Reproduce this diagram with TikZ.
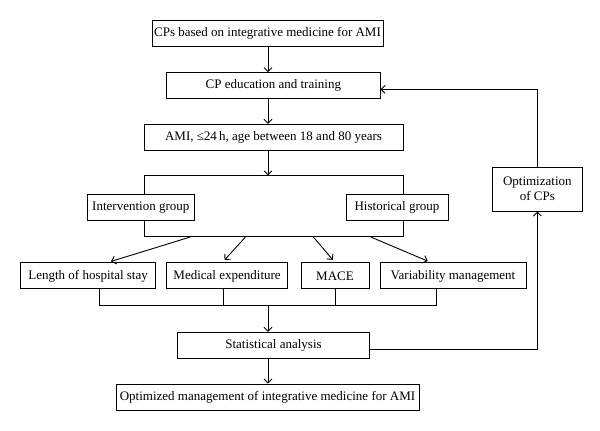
\documentclass[tikz,border=0pt]{standalone}
\usepackage{fontspec}
\setmainfont{Liberation Serif}
\usepackage{tikz}
\usetikzlibrary{arrows.meta}
\tikzstyle{box} = [rectangle, draw = black, line width = 0.9pt, inner sep = 0pt, minimum height = 26pt, font = \fontsize{13}{15}\selectfont]

\begin{document}
\begin{tikzpicture}[x = 1pt, y = 1pt, line width = 0.9pt, >={Straight Barb[length=4pt,width=8pt]}]
            \useasboundingbox (0, 0) rectangle (600, 431);
            \node (top) at (267.5, 397.3) [box, minimum width = 231pt] {CPs based on integrative medicine for AMI};
            \node (educ) at (273.3, 345.3) [box, minimum width = 213.5pt] {CP education and training};
            \node (crit) at (273.5, 293.5) [box, minimum width = 259pt, minimum height = 26.4pt] {AMI, ≤24\,h, age between 18 and 80 years};
            \node (grp) at (273.5, 224.7) [box, minimum width = 259pt, minimum height = 60.7pt] {};
            \node (intv) at (140.8, 223.8) [box, minimum width = 106.3pt, fill = white] {Intervention group};
            \node (hist) at (397, 223.8) [box, minimum width = 102pt, fill = white] {Historical group};
            \node (opt) at (537.3, 241.8) [box, minimum width = 90.7pt, minimum height = 43.7pt, align = center] {Optimization\\of CPs};
            \node (los) at (88.1, 155.1) [box, minimum width = 135.4pt] {Length of hospital stay};
            \node (med) at (227.1, 155.1) [box, minimum width = 121.2pt] {Medical expenditure};
            \node (mace) at (335, 155.1) [box, minimum width = 68pt] {MACE};
            \node (var) at (453, 155.1) [box, minimum width = 146pt] {Variability management};
            \node (stat) at (273.5, 85.7) [box, minimum width = 191.5pt] {Statistical analysis};
            \node (final) at (267.5, 34) [box, minimum width = 303pt] {Optimized management of integrative medicine for AMI};
            \coordinate (spine) at (268, 0);
            \coordinate (join) at (268, 125.3);
            \draw [->] (spine |- top.south) -- (spine |- educ.north);
            \draw [->] (spine |- educ.south) -- (spine |- crit.north);
            \draw [->] (spine |- crit.south) -- (spine |- grp.north);
            \draw [->, shorten > = 3.4pt] ([xshift = -83.5pt]grp.south) -- ([xshift = 19.6pt]los.north);
            \draw [->, shorten > = 3.4pt] ([xshift = -28.1pt]grp.south) -- ([xshift = -4.8pt]med.north);
            \draw [->, shorten > = 3.4pt] ([xshift = 40pt]grp.south) -- (mace.north);
            \draw [->, shorten > = 3.4pt] ([xshift = 97.5pt]grp.south) -- ([xshift = -22.2pt]var.north);
            \draw ([xshift = 11.1pt]los.south) |- (join) -| ([xshift = -16.5pt]var.south);
            \draw ([xshift = -4.1pt]med.south) -- ([xshift = -4.1pt]med.south |- join);
            \draw (mace.south) -- (mace.south |- join);
            \draw [->] (join) -- (spine |- stat.north);
            \draw [->] (spine |- stat.south) -- (spine |- final.north);
            \draw [->] ([yshift = -4pt]stat.east) -| (opt.south);
            \draw [->] (opt.north) |- ([yshift = -3.6pt]educ.east);
        \end{tikzpicture}
\end{document}
